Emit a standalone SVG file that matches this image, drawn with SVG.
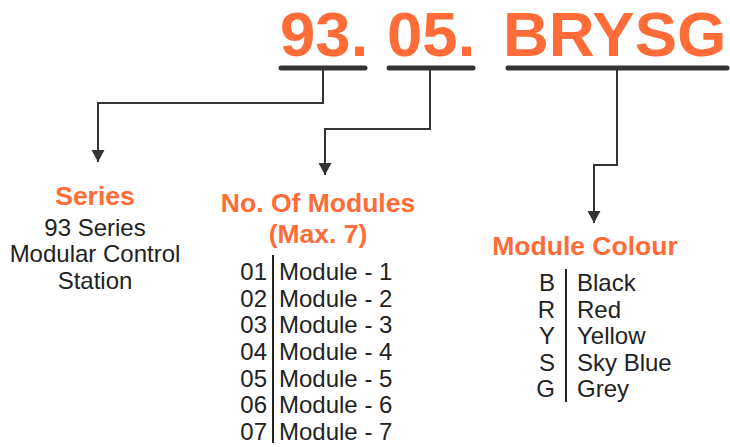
<svg xmlns="http://www.w3.org/2000/svg" width="730" height="447" viewBox="0 0 730 447">
<defs>
<style>
.code{font-family:"Liberation Sans",Arial,sans-serif;font-weight:bold;font-size:63.5px;fill:#FF6C37}
.head{font-family:"Liberation Sans",Arial,sans-serif;font-weight:bold;font-size:26.5px;fill:#FF6C37;text-anchor:middle}
.body{font-family:"Liberation Sans",Arial,sans-serif;font-size:24px;fill:#222}
.mid{text-anchor:middle}
.end{text-anchor:end}
.bar{stroke:#333;stroke-width:5;stroke-linecap:round}
.conn{fill:none;stroke:#333;stroke-width:2}
.sep{stroke:#222;stroke-width:2}
</style>
<marker id="arr" markerUnits="userSpaceOnUse" markerWidth="14" markerHeight="14" viewBox="0 0 14 14" refX="7" refY="13" orient="0">
<path d="M0.5,1 L13.5,1 L7,13 Z" fill="#333"/>
</marker>
</defs>
<rect width="730" height="447" fill="#fff"/>
<g id="code">
<text class="code" x="280" y="56">93.</text>
<text class="code" x="387" y="56">05.</text>
<text class="code" x="503" y="56">BRYSG</text>
<line class="bar" x1="281" y1="68" x2="365" y2="68"/>
<line class="bar" x1="389" y1="68" x2="473" y2="68"/>
<line class="bar" x1="508" y1="68" x2="727" y2="68"/>
</g>
<g id="connectors">
<path class="conn" d="M323,68 V103 H98 V162" marker-end="url(#arr)"/>
<path class="conn" d="M430,68 V129 H325 V175" marker-end="url(#arr)"/>
<path class="conn" d="M617,68 V165 H594 V223" marker-end="url(#arr)"/>
</g>
<g id="series">
<text class="head" x="95" y="205">Series</text>
<text class="body mid" x="95" y="236">93 Series</text>
<text class="body mid" x="95" y="262">Modular Control</text>
<text class="body mid" x="95" y="289">Station</text>
</g>
<g id="modules">
<text class="head" x="318" y="212">No. Of Modules</text>
<text class="head" x="318" y="243">(Max. 7)</text>
<line class="sep" x1="273" y1="255" x2="273" y2="443"/>
<text class="body end" x="267" y="280">01</text>
<text class="body end" x="267" y="306.7">02</text>
<text class="body end" x="267" y="333.3">03</text>
<text class="body end" x="267" y="360">04</text>
<text class="body end" x="267" y="386.7">05</text>
<text class="body end" x="267" y="413.3">06</text>
<text class="body end" x="267" y="440">07</text>
<text class="body" x="279" y="280">Module - 1</text>
<text class="body" x="279" y="306.7">Module - 2</text>
<text class="body" x="279" y="333.3">Module - 3</text>
<text class="body" x="279" y="360">Module - 4</text>
<text class="body" x="279" y="386.7">Module - 5</text>
<text class="body" x="279" y="413.3">Module - 6</text>
<text class="body" x="279" y="440">Module - 7</text>
</g>
<g id="colour">
<text class="head" x="585" y="255">Module Colour</text>
<line class="sep" x1="566" y1="269" x2="566" y2="402"/>
<text class="body end" x="555" y="291">B</text>
<text class="body end" x="555" y="317.5">R</text>
<text class="body end" x="555" y="344">Y</text>
<text class="body end" x="555" y="370.5">S</text>
<text class="body end" x="555" y="397">G</text>
<text class="body" x="577" y="291">Black</text>
<text class="body" x="577" y="317.5">Red</text>
<text class="body" x="577" y="344">Yellow</text>
<text class="body" x="577" y="370.5">Sky Blue</text>
<text class="body" x="577" y="397">Grey</text>
</g>
</svg>
